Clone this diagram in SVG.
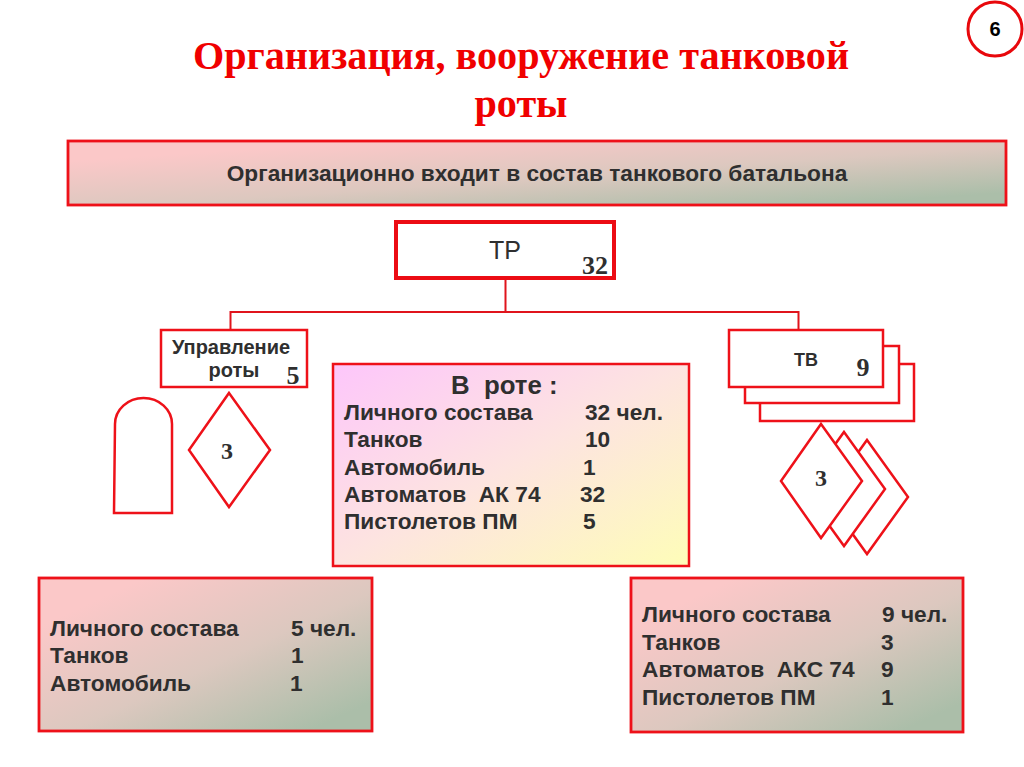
<svg xmlns="http://www.w3.org/2000/svg" width="1024" height="767" viewBox="0 0 1024 767">
<defs>
<linearGradient id="g1" x1="0.05" y1="0.05" x2="0.95" y2="0.95"><stop offset="0.12" stop-color="#fbc8c8"/><stop offset="0.55" stop-color="#dcc8bf"/><stop offset="0.95" stop-color="#abbea9"/></linearGradient>
<linearGradient id="g2" x1="0" y1="0" x2="1" y2="1"><stop offset="0" stop-color="#fdc6fb"/><stop offset="0.5" stop-color="#fde4e0"/><stop offset="1" stop-color="#fefdb8"/></linearGradient>
</defs>
<style>
text{white-space:pre}
.b{fill:#fff;stroke:#ee1119;stroke-width:2.5}
.t{font-family:"Liberation Sans",Arial,sans-serif;font-weight:bold;font-size:22.700px;fill:#2f2f2f}
.s{font-family:"Liberation Serif","Times New Roman",serif;font-weight:bold;font-size:24px;fill:#2f2f2f}
.c{fill:none;stroke:#e0141c;stroke-width:2}
</style>
<rect width="1024" height="767" fill="#fff"/>
<g id="badge"><circle cx="995" cy="29" r="27" fill="#fff" stroke="#e8080c" stroke-width="3"/><text x="995" y="36" text-anchor="middle" class="t" style="font-size:20px;fill:#000">6</text></g>
<g id="title" font-family="'Liberation Serif','Times New Roman',serif" font-weight="bold" font-size="40.200" fill="#f00000" text-anchor="middle"><text x="521" y="69">Организация, вооружение танковой</text><text x="521" y="117">роты</text></g>
<g id="connectors"><path class="c" d="M505.500 280V311M230.500 330V312H798.500V330"/></g>
<g id="n-top"><rect x="68" y="141" width="938" height="64" fill="url(#g1)" stroke="#ee1119" stroke-width="2.800"/><text x="537" y="181" text-anchor="middle" class="t">Организационно входит в состав танкового батальона</text></g>
<g id="n-tr"><rect x="396" y="222" width="218" height="56" fill="#fff" stroke="#ec0c14" stroke-width="4"/><text x="505" y="259" text-anchor="middle" class="t" style="font-weight:400;font-size:25px">ТР</text><text x="595" y="274" text-anchor="middle" class="s" style="font-size:26px">32</text></g>
<g id="n-upr"><rect class="b" x="161" y="330" width="146" height="57"/><text x="231" y="354" text-anchor="middle" class="t" style="font-size:20px">Управление</text><text x="234" y="377" text-anchor="middle" class="t" style="font-size:20px">роты</text><text x="293" y="384" text-anchor="middle" class="s" style="font-size:26px">5</text></g>
<g id="n-arch"><path class="b" d="M114 513L115 424A28.500 26 0 0 1 172 424V513Z"/></g>
<g id="n-dia1"><path class="b" d="M229 393L270 450L229 507L189 450Z"/><text x="227" y="459" text-anchor="middle" class="s">3</text></g>
<g id="n-tv">
<rect class="b" x="760" y="364" width="154" height="57"/>
<rect class="b" x="745" y="346" width="154" height="57"/>
<rect class="b" x="729" y="330" width="154" height="57"/>
<text x="806" y="366" text-anchor="middle" class="t" style="font-size:18px">ТВ</text><text x="863" y="376" text-anchor="middle" class="s" style="font-size:26px">9</text></g>
<g id="n-dia3">
<path class="b" d="M867 440L908 497L867 554L826 497Z"/>
<path class="b" d="M844 432L885 489L844 546L803 489Z"/>
<path class="b" d="M821 424L862 481L821 538L781 481Z"/>
<text x="821" y="486" text-anchor="middle" class="s">3</text></g>
<g id="n-mid"><rect x="333" y="364" width="356" height="202" fill="url(#g2)" stroke="#ee1119" stroke-width="2.500"/>
<text x="451" y="394" class="t" style="font-size:25.800px">В  роте :</text>
<text x="344" y="420" class="t">Личного состава</text><text x="585" y="420" class="t">32 чел.</text>
<text x="344" y="447" class="t">Танков</text><text x="585" y="447" class="t">10</text>
<text x="344" y="475" class="t">Автомобиль</text><text x="583" y="475" class="t">1</text>
<text x="344" y="502" class="t">Автоматов  АК 74</text><text x="580" y="502" class="t">32</text>
<text x="344" y="529" class="t">Пистолетов ПМ</text><text x="583" y="529" class="t">5</text></g>
<g id="n-left"><rect x="39" y="578" width="333" height="153" fill="url(#g1)" stroke="#ee1119" stroke-width="2.800"/>
<text x="50" y="636" class="t">Личного состава</text><text x="291" y="636" class="t">5 чел.</text>
<text x="50" y="663" class="t">Танков</text><text x="291" y="663" class="t">1</text>
<text x="50" y="691" class="t">Автомобиль</text><text x="290" y="691" class="t">1</text></g>
<g id="n-right"><rect x="631" y="578" width="332" height="154" fill="url(#g1)" stroke="#ee1119" stroke-width="2.800"/>
<text x="642" y="622" class="t">Личного состава</text><text x="882" y="622" class="t">9 чел.</text>
<text x="642" y="650" class="t">Танков</text><text x="881" y="650" class="t">3</text>
<text x="642" y="677" class="t">Автоматов  АКС 74</text><text x="881" y="677" class="t">9</text>
<text x="642" y="705" class="t">Пистолетов ПМ</text><text x="881" y="705" class="t">1</text></g>
</svg>
